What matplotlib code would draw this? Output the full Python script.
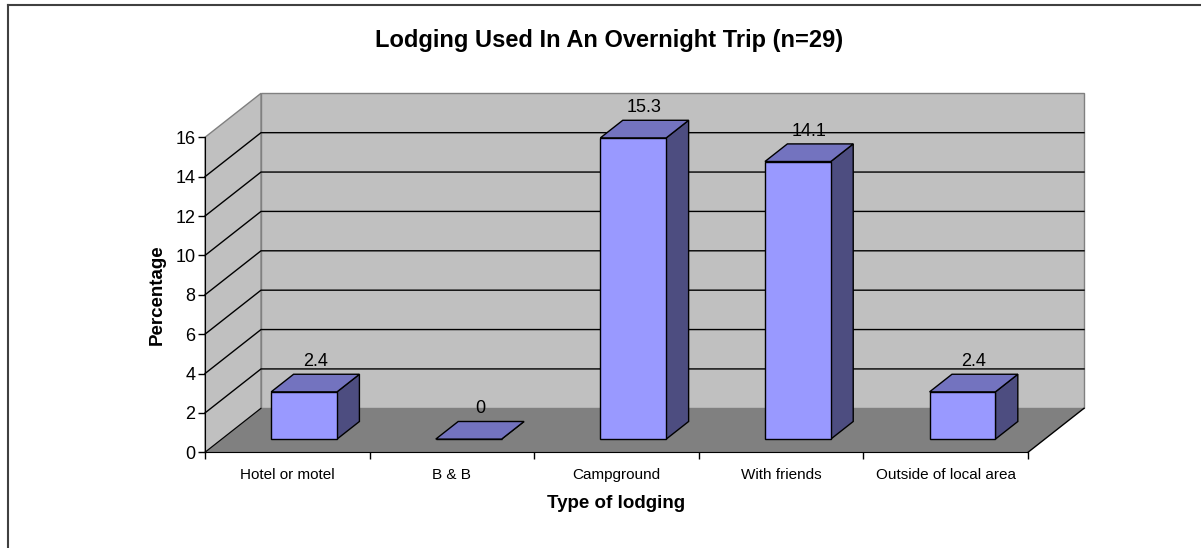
import matplotlib.pyplot as plt
from matplotlib.patches import Polygon
from matplotlib.lines import Line2D

# Data
categories = ["Hotel or motel", "B & B", "Campground", "With friends", "Outside of local area"]
percentages = [2.4, 0, 15.3, 14.1, 2.4]
y_ticks = [0, 2, 4, 6, 8, 10, 12, 14, 16]

W, H = 1201, 548
fig = plt.figure(figsize=(W / 100, H / 100), dpi=100)
plt.rcParams['font.family'] = ['Liberation Sans', 'DejaVu Sans']

# front plane of the 3d box, in pixels
x0, x1 = 205, 1028
yb, yt = 452.3, 137.3
ax = fig.add_axes([x0 / W, (H - yb) / H, (x1 - x0) / W, (yb - yt) / H])
ax.set_xlim(-0.5, len(categories) - 0.5)
ax.set_ylim(0, 16)
ax.patch.set_visible(False)

# depth offset in data units
DX = 56 / ((x1 - x0) / len(categories))
DY = 44 / ((yb - yt) / 16)

xl, xr = -0.5, len(categories) - 0.5
ymax = y_ticks[-1]
wall = '#c0c0c0'
edge = '#808080'

# back wall, left wall, floor
ax.add_patch(Polygon([(xl + DX, DY), (xr + DX, DY), (xr + DX, ymax + DY), (xl + DX, ymax + DY)],
                     closed=True, facecolor=wall, edgecolor=edge, lw=1, clip_on=False, zorder=1))
ax.add_patch(Polygon([(xl, 0), (xl + DX, DY), (xl + DX, ymax + DY), (xl, ymax)],
                     closed=True, facecolor=wall, edgecolor=edge, lw=1, clip_on=False, zorder=1))
ax.add_patch(Polygon([(xl, 0), (xr, 0), (xr + DX, DY), (xl + DX, DY)],
                     closed=True, facecolor='#808080', edgecolor='none', clip_on=False, zorder=1.5))
ax.plot([xr, xr + DX], [0, DY], color='black', lw=1, clip_on=False, zorder=1.6)
ax.plot([xl, xl + DX], [0, DY], color='black', lw=0.8, clip_on=False, zorder=1.6)

# gridlines on back and left wall
for t in y_ticks[1:-1]:
    ax.plot([xl, xl + DX, xr + DX], [t, t + DY, t + DY], color='black', lw=1, clip_on=False, zorder=2)

# bars
bw = 0.4
d0, d1 = 0.3, 0.7
for i, v in enumerate(percentages):
    fx = i + d0 * DX
    fy = d0 * DY
    ddx = (d1 - d0) * DX
    ddy = (d1 - d0) * DY
    front = [(fx - bw / 2, fy), (fx + bw / 2, fy), (fx + bw / 2, fy + v), (fx - bw / 2, fy + v)]
    top = [(fx - bw / 2, fy + v), (fx + bw / 2, fy + v), (fx + bw / 2 + ddx, fy + v + ddy), (fx - bw / 2 + ddx, fy + v + ddy)]
    side = [(fx + bw / 2, fy), (fx + bw / 2 + ddx, fy + ddy), (fx + bw / 2 + ddx, fy + v + ddy), (fx + bw / 2, fy + v)]
    for pts, col in [(side, '#4d4d80'), (front, '#9999ff'), (top, '#7373bf')]:
        ax.add_patch(Polygon(pts, closed=True, facecolor=col, edgecolor='black', lw=1,
                             clip_on=False, zorder=3 + i * 0.01))
    ax.annotate(f"{v:g}", xy=(i + 0.5 * DX, v + d1 * DY), xytext=(0, 3), textcoords='offset points',
                ha='center', va='bottom', fontsize=13, zorder=5, annotation_clip=False)

# axes, ticks
for s in ['top', 'right']:
    ax.spines[s].set_visible(False)
ax.spines['left'].set_zorder(4)
ax.spines['bottom'].set_zorder(4)
ax.set_yticks(y_ticks)
ax.set_yticklabels([str(t) for t in y_ticks], fontsize=13)
ax.tick_params(axis='y', direction='out', length=5, width=1, pad=2)
ax.set_xticks([k - 0.5 for k in range(len(categories) + 1)])
ax.set_xticklabels([])
ax.set_xticks(range(len(categories)), minor=True)
ax.set_xticklabels(categories, minor=True, fontsize=11)
ax.tick_params(axis='x', which='major', direction='out', length=5, width=1)
ax.tick_params(axis='x', which='minor', length=0, pad=11)

ax.set_ylabel("Percentage", fontsize=13.5, fontweight='bold', labelpad=7)
ax.set_xlabel("Type of lodging", fontsize=13.5, fontweight='bold', labelpad=10)
fig.text(609 / W, 1 - 40 / H, "Lodging Used In An Overnight Trip (n=29)", ha='center', va='center',
         fontsize=17, fontweight='bold')

# outer chart frame (only left and top edges visible)
fig.add_artist(Line2D([8 / W, 8 / W], [0, 1 - 5 / H], transform=fig.transFigure, color='#404040', lw=1.5))
fig.add_artist(Line2D([8 / W, 1], [1 - 5 / H, 1 - 5 / H], transform=fig.transFigure, color='#404040', lw=1.5))

fig.savefig("out.png", dpi=100)
